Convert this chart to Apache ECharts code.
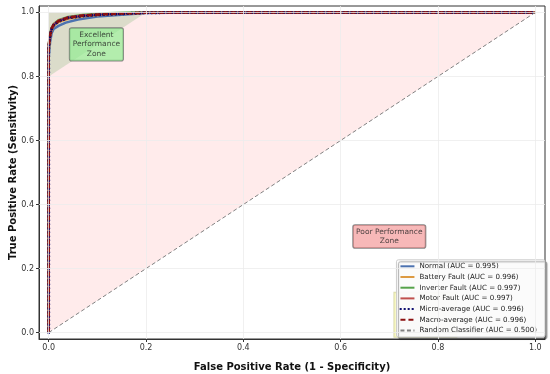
<!DOCTYPE html>
<html><head><meta charset="utf-8">
<script src="https://cdn.jsdelivr.net/npm/echarts@6/dist/echarts.min.js"></script>
<style>html,body{margin:0;padding:0;background:#fff}#c{width:550px;height:374px}</style>
</head><body><div id="c"></div>
<script>
const tickValues = [0, 0.2, 0.4, 0.6, 0.8, 1.0];
const normalFpr = [0, 0, 0.003, 0.006, 0.01, 0.02, 0.035, 0.06, 0.1, 0.15, 0.2, 0.3, 1];
const normalTpr = [0, 0.86, 0.91, 0.935, 0.948, 0.958, 0.968, 0.978, 0.987, 0.993, 0.998, 1, 1];
const batteryFpr = [0, 0, 0.003, 0.006, 0.01, 0.02, 0.04, 0.07, 0.12, 0.2, 0.3, 1];
const batteryTpr = [0, 0.88, 0.925, 0.945, 0.958, 0.97, 0.98, 0.988, 0.994, 0.999, 1, 1];
const inverterFpr = [0, 0, 0.003, 0.006, 0.01, 0.02, 0.04, 0.07, 0.12, 0.18, 1];
const inverterTpr = [0, 0.9, 0.935, 0.952, 0.963, 0.976, 0.986, 0.992, 0.997, 1, 1];
const motorFpr = [0, 0, 0.003, 0.006, 0.01, 0.02, 0.04, 0.07, 0.12, 0.2, 0.3, 1];
const motorTpr = [0, 0.9, 0.93, 0.95, 0.962, 0.974, 0.984, 0.99, 0.995, 0.999, 1, 1];
const microFpr = [0, 0, 0.003, 0.006, 0.01, 0.02, 0.04, 0.07, 0.12, 0.2, 0.3, 1];
const microTpr = [0, 0.89, 0.928, 0.948, 0.96, 0.972, 0.983, 0.989, 0.994, 0.999, 1, 1];
const macroFpr = [0, 0, 0.003, 0.006, 0.01, 0.02, 0.04, 0.07, 0.12, 0.2, 0.3, 1];
const macroTpr = [0, 0.895, 0.93, 0.95, 0.961, 0.973, 0.984, 0.99, 0.995, 0.999, 1, 1];
const randomFpr = [0, 1];
const randomTpr = [0, 1];
const excellentZoneX = [0, 0.2];
const excellentZoneY = [0.8, 1.0];
const seriesNames = ['Normal (AUC = 0.995)', 'Battery Fault (AUC = 0.996)', 'Inverter Fault (AUC = 0.997)', 'Motor Fault (AUC = 0.997)', 'Micro-average (AUC = 0.996)', 'Macro-average (AUC = 0.996)', 'Random Classifier (AUC = 0.500)'];
const annotations = [
  {x: 0.098, y: 0.9, text: 'Excellent\nPerformance\nZone', bg: 'rgba(144,238,144,0.85)'},
  {x: 0.7, y: 0.3, text: 'Poor Performance\nZone', bg: 'rgba(240,128,128,0.7)'}
];
const hiddenBox = {x: 0.774, y: 0.056};

const zip = (a, b) => a.map((v, i) => [v, b[i]]);
const font = 'DejaVu Sans';
const chart = echarts.init(document.getElementById('c'));

function rocLine(name, fx, ty, color, type, width, z, cap) {
  return {name, type: 'line', data: zip(fx, ty), symbol: 'none', showSymbol: false,
    lineStyle: {color, type, width, cap: cap || 'butt'}, itemStyle: {color}, z, silent: true};
}

const axisCommon = {
  type: 'value', min: -0.02, max: 1.02,
  axisLine: {show: true, onZero: false, lineStyle: {color: '#333', width: 1}},
  axisTick: {show: true, length: 3, customValues: tickValues, lineStyle: {color: '#333'}},
  axisLabel: {customValues: tickValues, color: '#333', fontSize: 8, fontFamily: font, formatter: v => v.toFixed(1), margin: 5},
  splitLine: {show: false}
};

chart.setOption({
  animation: false,
  grid: {left: 39, right: 5, top: 6, bottom: 35, show: true, borderColor: '#333', borderWidth: 1, outerBoundsMode: 'none', containLabel: false},
  xAxis: Object.assign({}, axisCommon, {name: 'False Positive Rate (1 - Specificity)', nameLocation: 'middle', nameGap: 23, nameMoveOverlap: false,
    nameTextStyle: {fontWeight: 'bold', fontSize: 10, fontFamily: font, color: '#111'}}),
  yAxis: Object.assign({}, axisCommon, {name: 'True Positive Rate (Sensitivity)', nameLocation: 'middle', nameGap: 21, nameMoveOverlap: false,
    nameTextStyle: {fontWeight: 'bold', fontSize: 10, fontFamily: font, color: '#111'}}),
  legend: {
    data: seriesNames, orient: 'vertical', right: 5, bottom: 37,
    backgroundColor: 'rgba(255,255,255,0.95)', borderColor: '#ccc', borderWidth: 1, borderRadius: 2,
    padding: [3, 8, 3, 3], itemGap: 3.7, itemWidth: 14, itemHeight: 7,
    itemStyle: {opacity: 0},
    shadowColor: 'rgba(0,0,0,0.35)', shadowOffsetX: 2, shadowOffsetY: 2, shadowBlur: 1,
    textStyle: {fontSize: 7.1, fontFamily: font, color: '#222'}
  },
  series: [
    {type: 'line', name: 'gridX', data: [], markLine: {silent: true, symbol: 'none', label: {show: false},
      lineStyle: {color: '#ececec', type: 'solid', width: 0.8},
      data: tickValues.map(v => ({xAxis: v})).concat(tickValues.map(v => ({yAxis: v})))}, z: 0},
    {type: 'line', name: 'poorFill', data: zip(randomFpr, randomTpr), symbol: 'none', lineStyle: {width: 0},
      areaStyle: {origin: 1, color: 'rgba(255,0,0,0.11)'}, z: 1, silent: true},
    {type: 'line', name: 'excFill', data: zip(excellentZoneX, excellentZoneY), symbol: 'none', lineStyle: {width: 0},
      areaStyle: {origin: 1, color: 'rgba(0,128,0,0.2)'}, z: 1, silent: true},
    {type: 'scatter', name: 'hidden', data: [[hiddenBox.x, hiddenBox.y]], symbolSize: 0, z: 2, silent: true,
      label: {show: true, formatter: 'Good\nPerformance', fontSize: 8, lineHeight: 10, color: 'rgba(0,0,0,0)', backgroundColor: 'rgba(255,255,190,0.9)',
        borderColor: 'rgba(190,190,110,0.7)', borderWidth: 1, padding: [12, 8], position: 'inside'}},
    rocLine(seriesNames[0], normalFpr, normalTpr, '#4c72b0', 'solid', 2.5, 3),
    rocLine(seriesNames[1], batteryFpr, batteryTpr, '#dd9a42', 'solid', 2.5, 3),
    rocLine(seriesNames[2], inverterFpr, inverterTpr, '#55a24a', 'solid', 2.5, 3),
    rocLine(seriesNames[3], motorFpr, motorTpr, '#c0504d', 'solid', 2.5, 3),
    rocLine(seriesNames[4], microFpr, microTpr, '#0a0a6e', [0.5, 3.5], 3, 4, 'round'),
    rocLine(seriesNames[5], macroFpr, macroTpr, '#8b1010', [5, 3], 2.5, 4),
    rocLine(seriesNames[6], randomFpr, randomTpr, '#808080', [4, 2.5], 1, 4),
    {type: 'scatter', name: 'annot', symbolSize: 0, z: 6, silent: true,
      data: annotations.map(a => ({value: [a.x, a.y], label: {backgroundColor: a.bg}})),
      label: {show: true, position: 'inside', fontSize: 7.5, fontFamily: font, color: '#222', lineHeight: 9.5,
        padding: [2, 3], borderColor: '#666', borderWidth: 0.8, borderRadius: 2,
        formatter: p => annotations[p.dataIndex].text}}
  ]
});
</script></body></html>
